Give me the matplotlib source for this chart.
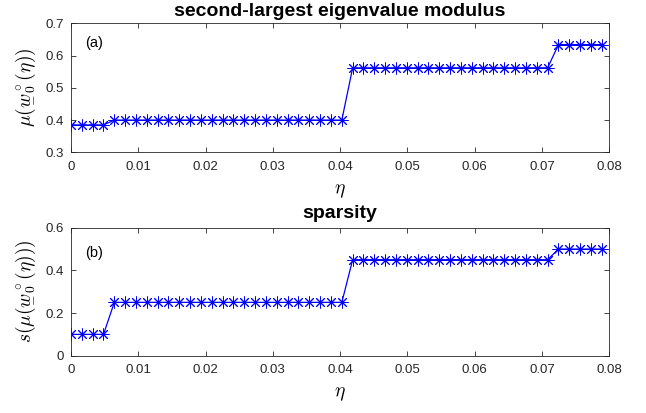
import numpy as np
import matplotlib
matplotlib.use("Agg")
import matplotlib.pyplot as plt

plt.rcParams['font.family'] = ['Liberation Sans', 'DejaVu Sans']
plt.rcParams['mathtext.fontset'] = 'cm'

# data
eta = np.round(np.arange(50) * 0.00161, 5)
mu = [0.385] * 4 + [0.40] * 22 + [0.562] * 19 + [0.634] * 5
spars = [0.10] * 4 + [0.25] * 22 + [0.45] * 19 + [0.50] * 5

titles = ['second-largest eigenvalue modulus', 'sparsity']
ylabels = [r'$\mu(\underset{-}{w}_0^\circ(\eta))$', r'$s(\mu(\underset{-}{w}_0^\circ(\eta)))$']
panel = ['(a)', '(b)']
ylims = [(0.3, 0.7), (0.0, 0.6)]
yticks = [[0.3, 0.4, 0.5, 0.6, 0.7], [0, 0.2, 0.4, 0.6]]
ytl = [['0.3', '0.4', '0.5', '0.6', '0.7'], ['0', '0.2', '0.4', '0.6']]
xticks = [0, 0.01, 0.02, 0.03, 0.04, 0.05, 0.06, 0.07, 0.08]
xtl = ['0', '0.01', '0.02', '0.03', '0.04', '0.05', '0.06', '0.07', '0.08']

W, H = 646, 413
fig = plt.figure(figsize=(W / 100, H / 100), dpi=100)
boxes = [(71, 23.3, 609.3, 152.3), (71, 227.7, 609.3, 355.7)]
series = [mu, spars]
ptxt_y = [0.64, 0.48]
title_pad = [5.3, 7.0]
for i in range(2):
    l, t, r, b = boxes[i]
    ax = fig.add_axes([l / W, 1 - b / H, (r - l) / W, (b - t) / H])
    ax.plot(eta, series[i], color='blue', lw=0.9, marker=(8, 2, 0), ms=8.5, mew=0.7)
    ax.set_xlim(0, 0.08)
    ax.set_ylim(*ylims[i])
    ax.set_xticks(xticks)
    ax.set_xticklabels(xtl)
    ax.set_yticks(yticks[i])
    ax.set_yticklabels(ytl[i])
    ax.tick_params(direction='in', top=True, right=True, labelsize=9.5,
                   colors='#262626', length=3.5, width=0.6)
    ax.tick_params(axis='x', pad=6)
    ax.tick_params(axis='y', pad=5)
    for s in ax.spines.values():
        s.set_color('#262626')
        s.set_linewidth(0.6)
    ax.set_title(titles[i], fontsize=14, fontweight='bold', pad=title_pad[i])
    ax.set_xlabel(r'$\eta$', fontsize=14, labelpad=7)
    ax.set_ylabel(ylabels[i], fontsize=14, labelpad=7)
    ax.text(0.0021, ptxt_y[i], panel[i], fontsize=10.5, color='black', va='center')

fig.savefig('out.png', dpi=100)
